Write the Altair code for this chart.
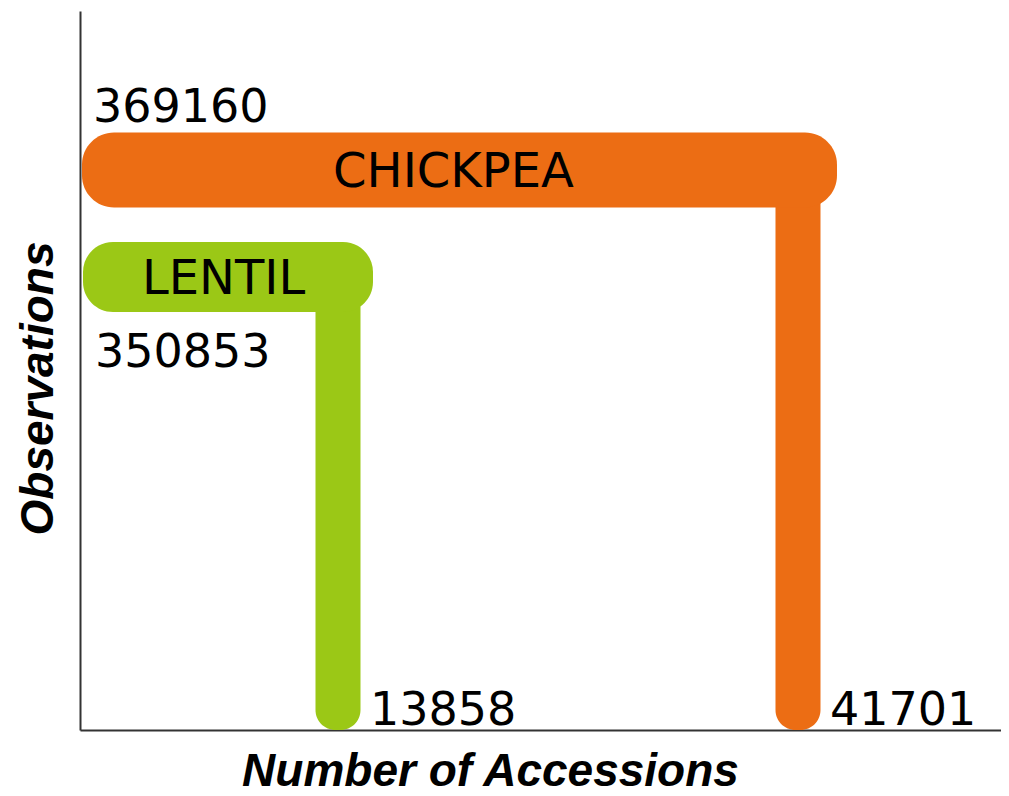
import altair as alt
import pandas as pd

# ---- data ----
crops = ["CHICKPEA", "LENTIL"]
accessions = [41701, 13858]
observations = [369160, 350853]
colors = ["#EC6D14", "#9BC816"]

df = pd.DataFrame({
    "crop": crops,
    "accessions": accessions,
    "observations": observations,
    "color": colors,
})

X_DOMAIN = [-1758, 53989]
Y_DOMAIN = [0, 391966]

xs = alt.Scale(domain=X_DOMAIN, nice=False, zero=False, padding=0)
ys = alt.Scale(type="pow", exponent=4.17, domain=Y_DOMAIN, nice=False, padding=0)

base = alt.Chart(df).transform_calculate(
    x0=str(X_DOMAIN[0]), y0="0", mid="datum.accessions / 2"
)

x_axis = alt.Axis(
    title="Number of Accessions", labels=False, ticks=False, grid=False,
    domain=True, domainColor="#333333", domainWidth=2,
    titleFont="Liberation Sans", titleFontSize=46, titleFontStyle="italic",
    titleFontWeight="bold", titleColor="#000000",
    titleX=410, titleY=55, titleAlign="center",
    titleBaseline="alphabetic",
)
y_axis = alt.Axis(
    title="Observations", labels=False, ticks=False, grid=False,
    domain=True, domainColor="#333333", domainWidth=2,
    titleFont="Liberation Sans", titleFontSize=46, titleFontStyle="italic",
    titleFontWeight="bold", titleColor="#000000",
    titleX=-28, titleY=377, titleAngle=270, titleAlign="center",
    titleBaseline="alphabetic",
)

# vertical legs
vert = base.mark_bar(width=45, cornerRadiusBottomLeft=20, cornerRadiusBottomRight=20).encode(
    x=alt.X("accessions:Q", scale=xs, axis=x_axis),
    y=alt.Y("observations:Q", scale=ys, axis=y_axis),
    y2=alt.Y2("y0:Q"),
    color=alt.Color("color:N", scale=None),
)

# horizontal arms
horiz_orange = base.transform_filter(alt.datum.crop == "CHICKPEA").mark_bar(
    height=75, cornerRadius=32, xOffset=2, x2Offset=39
).encode(
    x=alt.X("x0:Q", scale=xs),
    x2=alt.X2("accessions:Q"),
    y=alt.Y("observations:Q", scale=ys),
    color=alt.Color("color:N", scale=None),
)
horiz_green = base.transform_filter(alt.datum.crop == "LENTIL").mark_bar(
    height=70, cornerRadius=30, xOffset=3, x2Offset=35
).encode(
    x=alt.X("x0:Q", scale=xs),
    x2=alt.X2("accessions:Q"),
    y=alt.Y("observations:Q", scale=ys),
    color=alt.Color("color:N", scale=None),
)

txt = dict(font="DejaVu Sans", color="#000000")

crop_names = base.mark_text(
    fontSize=48, align="center", baseline="alphabetic", dy=17, **txt
).encode(
    x=alt.X("mid:Q", scale=xs),
    y=alt.Y("observations:Q", scale=ys),
    text="crop:N",
)

obs_top = base.transform_filter(alt.datum.crop == "CHICKPEA").mark_text(
    fontSize=46, align="left", baseline="alphabetic", dx=13, dy=-48, **txt
).encode(
    x=alt.X("x0:Q", scale=xs),
    y=alt.Y("observations:Q", scale=ys),
    text="observations:N",
)
obs_bottom = base.transform_filter(alt.datum.crop == "LENTIL").mark_text(
    fontSize=46, align="left", baseline="alphabetic", dx=15, dy=90, **txt
).encode(
    x=alt.X("x0:Q", scale=xs),
    y=alt.Y("observations:Q", scale=ys),
    text="observations:N",
)

acc_labels = base.mark_text(
    fontSize=46, align="left", baseline="alphabetic", dx=32, dy=-5, **txt
).encode(
    x=alt.X("accessions:Q", scale=xs),
    y=alt.Y("y0:Q", scale=ys),
    text="accessions:N",
)

chart = alt.layer(
    vert, horiz_orange, horiz_green, crop_names, obs_top, obs_bottom, acc_labels
).properties(
    width=921, height=719,
    autosize=alt.AutoSizeParams(type="none"),
    padding={"left": 72, "top": 3, "right": 0, "bottom": 66},
).configure_view(stroke=None)

chart.save("out.html", embed_options={"renderer": "svg", "actions": False})
